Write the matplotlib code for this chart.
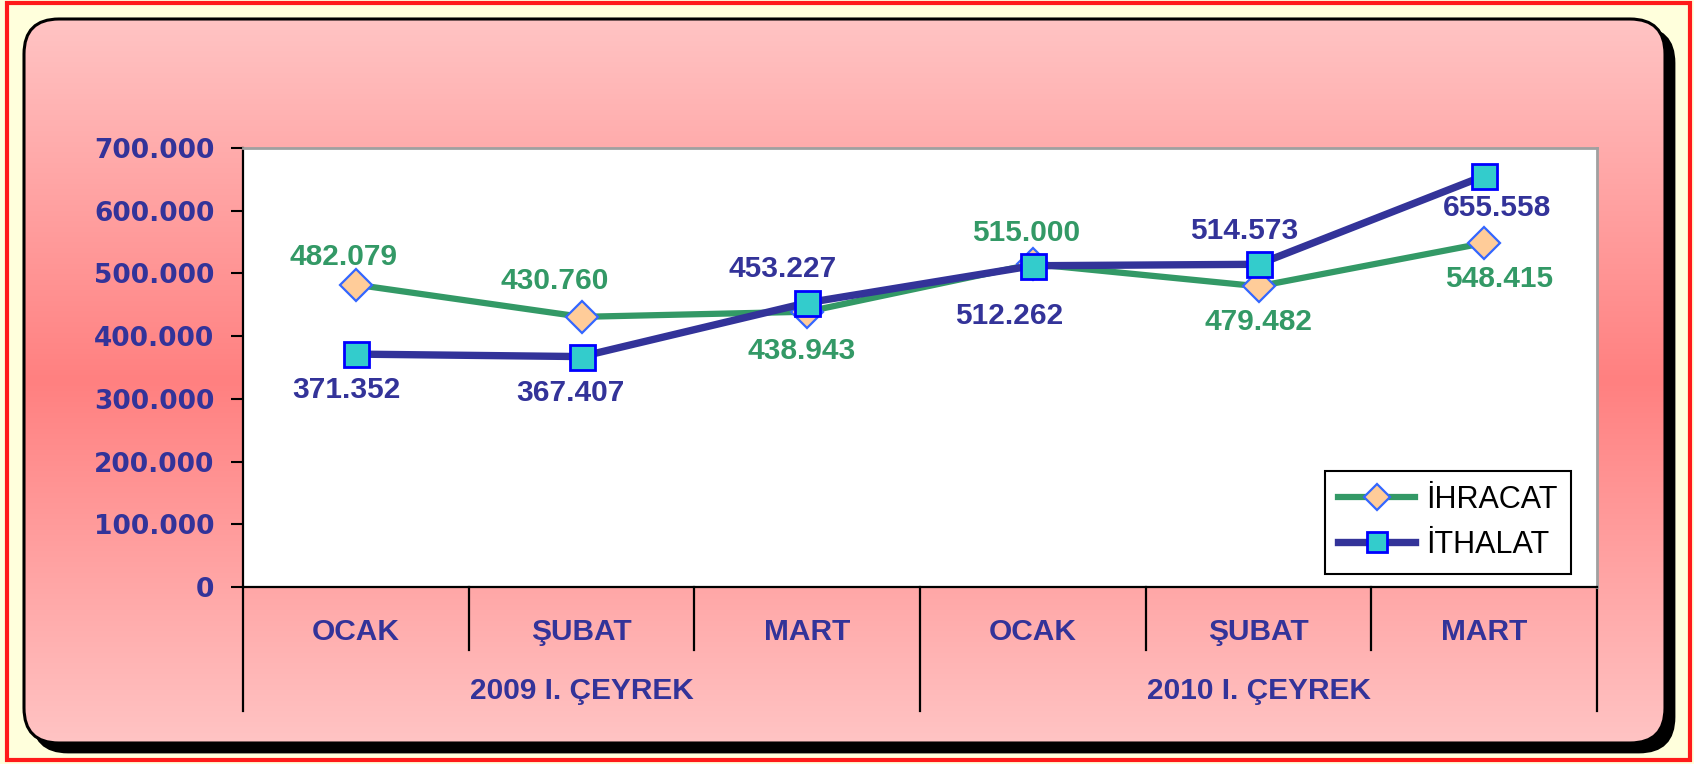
import numpy as np
import matplotlib
matplotlib.use('Agg')
import matplotlib.pyplot as plt
from matplotlib.patches import FancyBboxPatch, Rectangle

# chart data
months = ['OCAK', 'ŞUBAT', 'MART', 'OCAK', 'ŞUBAT', 'MART']
periods = ['2009 I. ÇEYREK', '2010 I. ÇEYREK']
ihracat = [482079, 430760, 438943, 515000, 479482, 548415]
ithalat = [371352, 367407, 453227, 512262, 514573, 655558]
y_ticks = [0, 100000, 200000, 300000, 400000, 500000, 600000, 700000]

# data label offsets (points), placed by hand like in the original
ihr_off = [(-9, 20), (-19, 26), (-4, -28), (-5, 22), (0, -26), (11, -26)]
ith_off = [(-7, -26), (-8, -26), (-18, 24), (-17, -36), (-10, 24), (9, -23)]

W, H = 1694, 764
GREEN = '#339966'
NAVY = '#333399'


def fmt(v):
    return f'{v:,}'.replace(',', '.')


fig = plt.figure(figsize=(W / 100, H / 100), dpi=100, facecolor='#FFFFDC')

# background frame: red border, rounded pink box with shadow
bg = fig.add_axes([0, 0, 1, 1], zorder=0)
bg.set_xlim(0, W)
bg.set_ylim(H, 0)
bg.axis('off')
bg.add_patch(Rectangle((7, 3), 1683, 757, fill=False, edgecolor='#FF1A1A', lw=3))
bx, by, bw, bh = 24, 19, 1641, 724
bg.add_patch(FancyBboxPatch((bx + 9, by + 9), bw, bh, boxstyle='round,pad=0,rounding_size=35',
                            facecolor='black', edgecolor='black', lw=2))
box = FancyBboxPatch((bx, by), bw, bh, boxstyle='round,pad=0,rounding_size=35',
                     facecolor='none', edgecolor='black', lw=2.2, zorder=3)
bg.add_patch(box)
rows = np.arange(by, by + bh)
r = np.full(rows.shape, 1.0)
g = np.interp(rows, [by, 380, by + bh], [196, 128, 196]) / 255
grad = np.stack([r, g, g], axis=1)[:, None, :]
im = bg.imshow(grad, extent=(bx, bx + bw, by + bh, by), aspect='auto', zorder=2)
clip = FancyBboxPatch((bx, by), bw, bh, boxstyle='round,pad=0,rounding_size=35',
                      transform=bg.transData, facecolor='none', edgecolor='none')
im.set_clip_path(clip)
bg.set_xlim(0, W)
bg.set_ylim(H, 0)

# main plot
ax = fig.add_axes([243 / W, 1 - 587 / H, (1597 - 243) / W, (587 - 148) / H], zorder=1)
ax.set_facecolor('white')
x = np.arange(len(months))

ax.plot(x, ihracat, color=GREEN, lw=4.5, marker='D', ms=16.5, mfc='#FFCC99',
        mec='#3366FF', mew=1.6, label='İHRACAT', zorder=3)
ax.plot(x, ithalat, color=NAVY, lw=5.3, marker='s', ms=18, mfc='#33CCCC',
        mec='#0000FF', mew=2, label='İTHALAT', zorder=4)

lab_font = dict(family=['Liberation Sans', 'DejaVu Sans'], fontsize=21.5, fontweight='bold')
for xi, v, (dx, dy) in zip(x, ihracat, ihr_off):
    ax.annotate(fmt(v), (xi, v), xytext=(dx, dy), textcoords='offset points',
                ha='center', va='center', color=GREEN, zorder=5, **lab_font)
for xi, v, (dx, dy) in zip(x, ithalat, ith_off):
    ax.annotate(fmt(v), (xi, v), xytext=(dx, dy), textcoords='offset points',
                ha='center', va='center', color=NAVY, zorder=5, **lab_font)

ax.set_xlim(-0.5, len(months) - 0.5)
ax.set_ylim(0, 700000)
ax.set_yticks(y_ticks)
ax.set_yticklabels([fmt(t) for t in y_ticks], fontsize=19, fontweight='bold',
                   color=NAVY, family='DejaVu Sans')
ax.tick_params(axis='y', direction='out', length=8.6, width=1.5, pad=12, color='black')
ax.set_xticks([])

for side in ['left', 'bottom']:
    ax.spines[side].set_color('black')
    ax.spines[side].set_linewidth(1.6)
for side in ['top', 'right']:
    ax.spines[side].set_color('#A0A0A0')
    ax.spines[side].set_linewidth(2)

# two level category axis
tr = ax.get_xaxis_transform()
for xi, m in zip(x, months):
    ax.text(xi, -0.1025, m, transform=tr, ha='center', va='center', color=NAVY, **lab_font)
for i, p in enumerate(periods):
    ax.text(i * 3 + 1, -0.237, p, transform=tr, ha='center', va='center', color=NAVY, **lab_font)
for b in [0.5, 1.5, 3.5, 4.5]:
    ax.plot([b, b], [0, -0.1435], transform=tr, color='black', lw=1.6, clip_on=False)
for b in [-0.5, 2.5, 5.5]:
    ax.plot([b, b], [0, -0.2825], transform=tr, color='black', lw=1.6, clip_on=False)

leg = ax.legend(loc='lower right', bbox_to_anchor=(0.981, 0.03), borderaxespad=0,
                prop={'family': ['Liberation Sans', 'DejaVu Sans'], 'size': 22},
                frameon=True, fancybox=False, edgecolor='black', framealpha=1,
                handlelength=2.5, handletextpad=0.37, borderpad=0.45, labelspacing=0.5,
                numpoints=1, markerscale=0.8)
leg.get_frame().set_linewidth(1.5)

plt.savefig('out.png', dpi=100, facecolor=fig.get_facecolor())
